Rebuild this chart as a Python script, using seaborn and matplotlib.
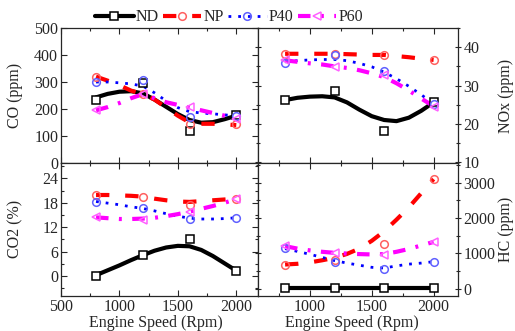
import matplotlib
matplotlib.use('Agg')
import matplotlib.pyplot as plt
from matplotlib.lines import Line2D
from matplotlib.ticker import MultipleLocator
import seaborn as sns

# engine speed of the measured points and of the smoothed curves
speed = [800, 1200, 1600, 2000]
speed_fit = [800, 900, 1000, 1100, 1200, 1300, 1400, 1500, 1600, 1700, 1800, 1900, 2000]

# CO (ppm)
co_nd = [235, 295, 118, 178]
co_np = [320, 255, 145, 145]
co_p40 = [301, 307, 170, 175]
co_p60 = [195, 257, 207, 164]
co_nd_fit = [243, 256, 264, 266, 258, 235, 208, 181, 159, 149, 151, 162, 175]
co_np_fit = [320, 305, 288, 268, 255, 235, 205, 175, 150, 145, 145, 143, 140]
co_p40_fit = [300, 300, 297, 293, 285, 260, 230, 205, 190, 185, 182, 178, 175]
co_p60_fit = [195, 207, 222, 240, 255, 240, 225, 215, 205, 195, 185, 175, 165]

# NOx (ppm)
nox_nd = [26.1, 28.5, 18.0, 25.8]
nox_np = [38.3, 38.3, 38.0, 36.7]
nox_p40 = [35.9, 38.0, 33.9, 25.2]
nox_p60 = [36.6, 34.8, 32.8, 24.4]
nox_nd_fit = [26.2, 26.8, 27.1, 27.2, 26.9, 25.6, 23.7, 22.0, 21.0, 20.7, 21.6, 23.4, 25.6]
nox_np_fit = [38.3, 38.3, 38.3, 38.3, 38.3, 38.2, 38.1, 38.0, 38.0, 37.7, 37.4, 37.0, 36.7]
nox_p40_fit = [36.2, 36.5, 36.7, 36.8, 36.8, 36.5, 35.8, 34.9, 33.5, 31.8, 29.8, 27.6, 25.2]
nox_p60_fit = [36.6, 36.2, 35.8, 35.5, 35.0, 34.6, 34.0, 33.2, 32.2, 30.6, 28.7, 26.6, 24.6]

# CO2 (%)
co2_nd = [0.1, 5.1, 9.1, 1.2]
co2_np = [19.9, 19.5, 17.5, 18.9]
co2_p40 = [18.3, 16.6, 14.0, 14.3]
co2_p60 = [14.4, 13.8, 15.7, 18.9]
co2_nd_fit = [0.2, 1.4, 2.6, 3.9, 5.1, 6.2, 7.0, 7.4, 7.3, 6.4, 4.9, 3.1, 1.3]
co2_np_fit = [19.9, 19.9, 19.8, 19.7, 19.5, 19.0, 18.6, 18.3, 18.2, 18.4, 18.6, 18.8, 19.0]
co2_p40_fit = [18.3, 17.9, 17.5, 17.0, 16.6, 16.0, 15.3, 14.7, 14.2, 14.0, 14.0, 14.1, 14.3]
co2_p60_fit = [14.4, 14.2, 14.0, 14.0, 14.1, 14.3, 14.7, 15.2, 15.8, 16.5, 17.2, 18.0, 18.9]

# HC (ppm)
hc_nd = [20, 20, 20, 20]
hc_np = [680, 800, 1250, 3105]
hc_p40 = [1135, 760, 550, 760]
hc_p60 = [1210, 995, 945, 1325]
hc_nd_fit = [20, 20, 20, 20, 20, 20, 20, 20, 20, 20, 20, 20, 20]
hc_np_fit = [680, 700, 740, 800, 870, 980, 1130, 1350, 1620, 1950, 2300, 2700, 3100]
hc_p40_fit = [1130, 1050, 970, 880, 790, 720, 660, 600, 580, 640, 690, 720, 760]
hc_p60_fit = [1200, 1130, 1080, 1040, 1010, 990, 975, 965, 975, 1040, 1120, 1220, 1320]

names = ['ND', 'NP', 'P40', 'P60']

styles = {
    'ND': dict(color='black', lw=3, ls='-', marker='s', mec='black', mfc='white'),
    'NP': dict(color='#ff0000', lw=3, ls=(0, (3.2, 3.8)), marker='o', mec='#ff6060', mfc='none'),
    'P40': dict(color='#0000ff', lw=2, ls=(0, (1, 2.5)), marker='o', mec='#6060ff', mfc='none'),
    'P60': dict(color='#ff00ff', lw=3, ls=(0, (3, 2.5, 0.7, 2.5)), marker='<', mec='#ff60ff', mfc='none'),
}

sns.set_style('ticks')
plt.rcParams['font.family'] = ['Liberation Serif', 'DejaVu Serif']
plt.rcParams['font.size'] = 11.5

fig = plt.figure(figsize=(5.15, 3.31), dpi=100)
ax_co = fig.add_axes([0.1184, 0.508, 0.3835, 0.407])
ax_nox = fig.add_axes([0.5019, 0.508, 0.3874, 0.407])
ax_co2 = fig.add_axes([0.1184, 0.106, 0.3835, 0.402])
ax_hc = fig.add_axes([0.5019, 0.106, 0.3874, 0.402])

panels = [
    (ax_co, [co_nd, co_np, co_p40, co_p60], [co_nd_fit, co_np_fit, co_p40_fit, co_p60_fit]),
    (ax_nox, [nox_nd, nox_np, nox_p40, nox_p60], [nox_nd_fit, nox_np_fit, nox_p40_fit, nox_p60_fit]),
    (ax_co2, [co2_nd, co2_np, co2_p40, co2_p60], [co2_nd_fit, co2_np_fit, co2_p40_fit, co2_p60_fit]),
    (ax_hc, [hc_nd, hc_np, hc_p40, hc_p60], [hc_nd_fit, hc_np_fit, hc_p40_fit, hc_p60_fit]),
]

for ax, pts, fits in panels:
    for name, p, f in zip(names, pts, fits):
        st = styles[name]
        sns.lineplot(x=speed_fit, y=f, ax=ax, color=st['color'], lw=st['lw'],
                     linestyle=st['ls'], zorder=2)
        ax.plot(speed, p, ls='none', marker=st['marker'], ms=5.5, mew=1.1,
                mec=st['mec'], mfc=st['mfc'], zorder=3)
    ax.tick_params(which='both', direction='in', top=True, bottom=True, left=True, right=True,
                   labelsize=11.5, pad=2)
    ax.tick_params(which='major', length=4, width=0.8)
    ax.tick_params(which='minor', length=2.5, width=0.8)
    ax.xaxis.set_major_locator(MultipleLocator(500))
    ax.xaxis.set_minor_locator(MultipleLocator(250))
    for s in ax.spines.values():
        s.set_linewidth(0.9)

ax_co.set_xlim(500, 2190)
ax_co2.set_xlim(500, 2190)
ax_nox.set_xlim(585, 2197)
ax_hc.set_xlim(585, 2197)

ax_co.set_ylim(0, 500)
ax_co.yaxis.set_major_locator(MultipleLocator(100))
ax_co.set_ylabel('CO (ppm)', fontsize=11.5)
ax_co.yaxis.set_label_coords(-0.19, 0.5)
ax_co.tick_params(labelbottom=False)

ax_nox.set_ylim(9.8, 45)
ax_nox.yaxis.set_major_locator(MultipleLocator(10))
ax_nox.yaxis.set_minor_locator(MultipleLocator(5))
ax_nox.tick_params(axis='y', which='both', direction='inout')
ax_nox.tick_params(labelbottom=False, labelleft=False, labelright=True)
ax_nox.yaxis.set_label_position('right')
ax_nox.set_ylabel('NOx (ppm)', fontsize=11.5)
ax_nox.yaxis.set_label_coords(1.2, 0.5)

ax_co2.set_ylim(-4.9, 27.8)
ax_co2.yaxis.set_major_locator(MultipleLocator(6))
ax_co2.yaxis.set_minor_locator(MultipleLocator(3))
ax_co2.set_ylabel('CO2 (%)', fontsize=11.5)
ax_co2.yaxis.set_label_coords(-0.19, 0.5)
ax_co2.set_xlabel('Engine Speed (Rpm)', fontsize=11.5)
ax_co2.xaxis.set_label_coords(0.48, -0.14)

ax_hc.set_ylim(-210, 3560)
ax_hc.yaxis.set_major_locator(MultipleLocator(1000))
ax_hc.yaxis.set_minor_locator(MultipleLocator(500))
ax_hc.tick_params(axis='y', which='both', direction='inout')
ax_hc.tick_params(labelleft=False, labelright=True)
ax_hc.yaxis.set_label_position('right')
ax_hc.set_ylabel('HC (ppm)', fontsize=11.5)
ax_hc.yaxis.set_label_coords(1.2, 0.5)
ax_hc.set_xlabel('Engine Speed (Rpm)', fontsize=11.5)
ax_hc.xaxis.set_label_coords(0.47, -0.14)

handles = []
for name in names:
    st = styles[name]
    handles.append(Line2D([], [], color=st['color'], lw=st['lw'], ls=st['ls'],
                          marker=st['marker'], ms=5.5, mew=1.1, mec=st['mec'], mfc=st['mfc']))
fig.legend(handles, names, loc='center', bbox_to_anchor=(0.445, 0.948), ncol=4,
           frameon=False, handlelength=2.4, handletextpad=0.15, columnspacing=0.25,
           fontsize=11.5, borderpad=0)

fig.savefig('out.png', dpi=100)
